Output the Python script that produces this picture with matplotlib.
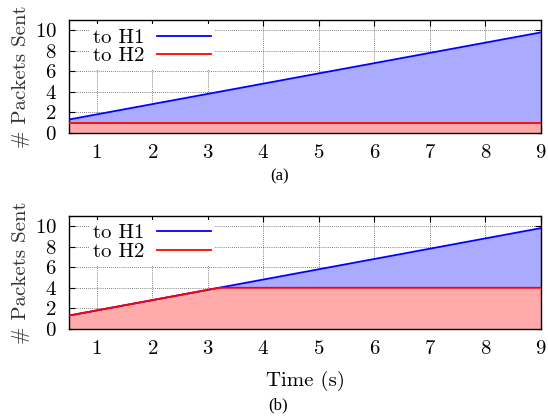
import matplotlib
matplotlib.use("Agg")
import matplotlib.pyplot as plt

# data
time = [0.5, 1, 2, 3, 3.2, 4, 5, 6, 7, 8, 9]
h1 = [1.3, 1.8, 2.8, 3.8, 4.0, 4.8, 5.8, 6.8, 7.8, 8.8, 9.8]
h2_a = [1, 1, 1, 1, 1, 1, 1, 1, 1, 1, 1]
h2_b = [1.3, 1.8, 2.8, 3.8, 4.0, 4, 4, 4, 4, 4, 4]
xticks = [1, 2, 3, 4, 5, 6, 7, 8, 9]
yticks = [0, 2, 4, 6, 8, 10]
series_labels = ["to H1", "to H2"]

plt.rcParams['font.family'] = 'cmr10'
plt.rcParams['mathtext.fontset'] = 'cm'
plt.rcParams['axes.formatter.use_mathtext'] = True
plt.rcParams['font.size'] = 15

fig = plt.figure(figsize=(5.48, 4.19), dpi=100)
ax1 = fig.add_axes([0.126, 0.683, 0.861, 0.269])
ax2 = fig.add_axes([0.126, 0.215, 0.861, 0.270])

for ax, h2 in ((ax1, h2_a), (ax2, h2_b)):
    ax.set_axisbelow(True)
    ax.grid(True, linestyle=(0, (1, 1.5)), color='#555555', linewidth=0.6)
    ax.fill_between(time, 0, h1, color='#aaaaff', linewidth=0, zorder=2)
    ax.fill_between(time, 0, h2, color='#ffaaaa', linewidth=0, zorder=2)
    l1, = ax.plot(time, h1, color='#0000ff', linewidth=1.3, zorder=3, label=series_labels[0])
    l2, = ax.plot(time, h2, color='#ff0000', linewidth=1.3, zorder=3, label=series_labels[1])
    ax.set_xlim(0.5, 9)
    ax.set_ylim(0, 11)
    ax.set_xticks(xticks)
    ax.set_yticks(yticks)
    ax.tick_params(direction='in', top=True, right=True, length=4, width=0.8)
    ax.tick_params(axis='x', pad=8)
    ax.tick_params(axis='y', pad=9)
    for s in ax.spines.values():
        s.set_linewidth(1.0)
    ax.set_ylabel("# Packets Sent", labelpad=3, color='#333333')
    leg = ax.legend(loc='upper left', bbox_to_anchor=(0.042, 0.965), markerfirst=False,
                    frameon=True, fancybox=False, framealpha=1, edgecolor='none',
                    facecolor='white', handlelength=2.6, handletextpad=0.6,
                    labelspacing=0.0, borderpad=0.2, borderaxespad=0)
    leg.set_zorder(5)

ax2.set_xlabel("Time (s)", labelpad=9)

fig.text(0.51, 0.58, "(a)", family=['Liberation Serif', 'DejaVu Serif'], fontsize=12,
         ha='center', va='center')
fig.text(0.508, 0.033, "(b)", family=['Liberation Serif', 'DejaVu Serif'], fontsize=12,
         ha='center', va='center')

fig.savefig("out.png", dpi=100)
